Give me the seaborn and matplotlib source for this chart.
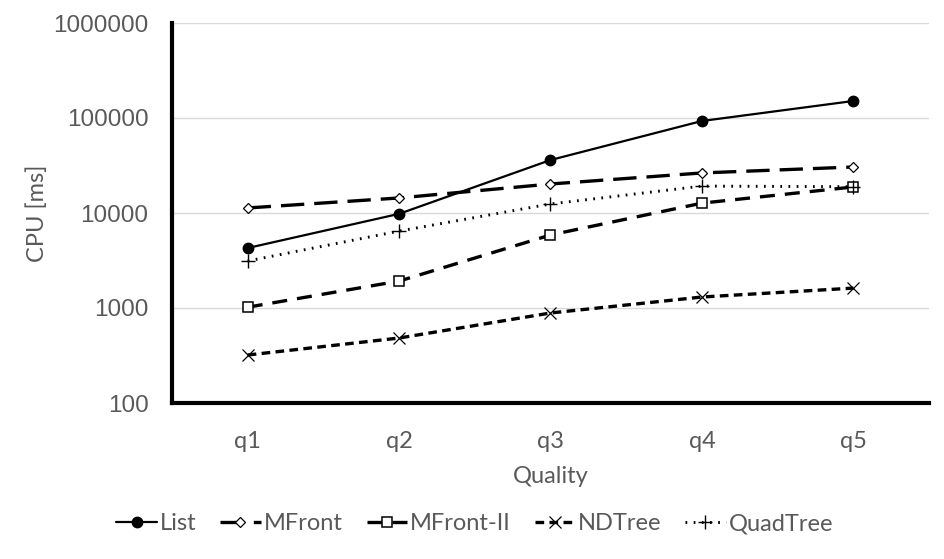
import matplotlib
matplotlib.use("Agg")
import matplotlib.pyplot as plt
import seaborn as sns
import pandas as pd

qualities = ["q1", "q2", "q3", "q4", "q5"]
series_names = ["List", "MFront", "MFront-II", "NDTree", "QuadTree"]
list_vals = [4280, 9800, 36100, 93000, 151000]
mfront_vals = [11300, 14400, 20200, 26400, 30500]
mfront2_vals = [1020, 1920, 5870, 12700, 18800]
ndtree_vals = [320, 483, 886, 1305, 1620]
quadtree_vals = [3125, 6450, 12450, 19200, 18900]
y_ticks = [100, 1000, 10000, 100000, 1000000]

values = [list_vals, mfront_vals, mfront2_vals, ndtree_vals, quadtree_vals]
rows = []
for name, vals in zip(series_names, values):
    for i, (q, v) in enumerate(zip(qualities, vals)):
        rows.append({"Series": name, "Quality": q, "idx": i, "CPU": v})
df = pd.DataFrame(rows)

sns.set_theme(style="white")
plt.rcParams["font.family"] = ["Lato", "DejaVu Sans"]

fig = plt.figure(figsize=(9.45, 5.59), dpi=100)
ax = fig.add_axes([172/945, 1-403/559, (929-172)/945, (403-23)/559])

styles = {
    "List": dict(ls="-", lw=1.6, marker="o", ms=7.5, mfc="black", mec="black"),
    "MFront": dict(ls=(0, (7, 3)), lw=2.4, marker="D", ms=5.5, mfc="white", mec="black", mew=0.9),
    "MFront-II": dict(ls=(0, (4.5, 3)), lw=2.4, marker="s", ms=7.5, mfc="white", mec="black", mew=1.1),
    "NDTree": dict(ls=(0, (2.6, 1.6)), lw=2.4, marker="x", ms=8.5, mec="black", mew=0.9),
    "QuadTree": dict(ls=(0, (0.6, 2.2)), lw=2.1, marker="+", ms=10, mec="black", mew=1.0),
}

for name in series_names:
    st = styles[name]
    sub = df[df["Series"] == name]
    sns.lineplot(data=sub, x="idx", y="CPU", ax=ax, color="black",
                 linestyle=st["ls"], linewidth=st["lw"], marker=st["marker"],
                 markersize=st["ms"], markerfacecolor=st.get("mfc", "black"),
                 markeredgecolor=st["mec"], markeredgewidth=st.get("mew", 1.0),
                 label=name, legend=False)

ax.set_yscale("log")
ax.set_ylim(100, 1000000)
ax.set_xlim(-0.5, 4.5)
ax.set_yticks(y_ticks)
ax.set_yticklabels([str(t) for t in y_ticks], family=["Liberation Sans", "DejaVu Sans"], fontsize=17.5, color="#595959")
ax.minorticks_off()
ax.set_xticks(range(len(qualities)))
ax.set_xticklabels(qualities, fontsize=17, color="#595959")
ax.tick_params(axis="x", length=0, pad=20)
ax.tick_params(axis="y", length=0, pad=17)

ax.grid(axis="y", color="#d9d9d9", linewidth=1.0)
ax.grid(axis="x", visible=False)
for s in ["top", "right"]:
    ax.spines[s].set_visible(False)
for s in ["left", "bottom"]:
    ax.spines[s].set_color("black")
    ax.spines[s].set_linewidth(3)

ax.set_xlabel("Quality", fontsize=17, color="#595959", labelpad=10)
ax.set_ylabel("CPU [ms]", fontsize=17, color="#595959", labelpad=4)

handles, labels = ax.get_legend_handles_labels()
leg = fig.legend(handles, labels, loc="center", bbox_to_anchor=(475/945, 1-524/559),
                 ncol=5, frameon=False, fontsize=17, handlelength=1.7,
                 columnspacing=1.0, handletextpad=0.15, labelcolor="#595959")

fig.savefig("out.png", dpi=100)
